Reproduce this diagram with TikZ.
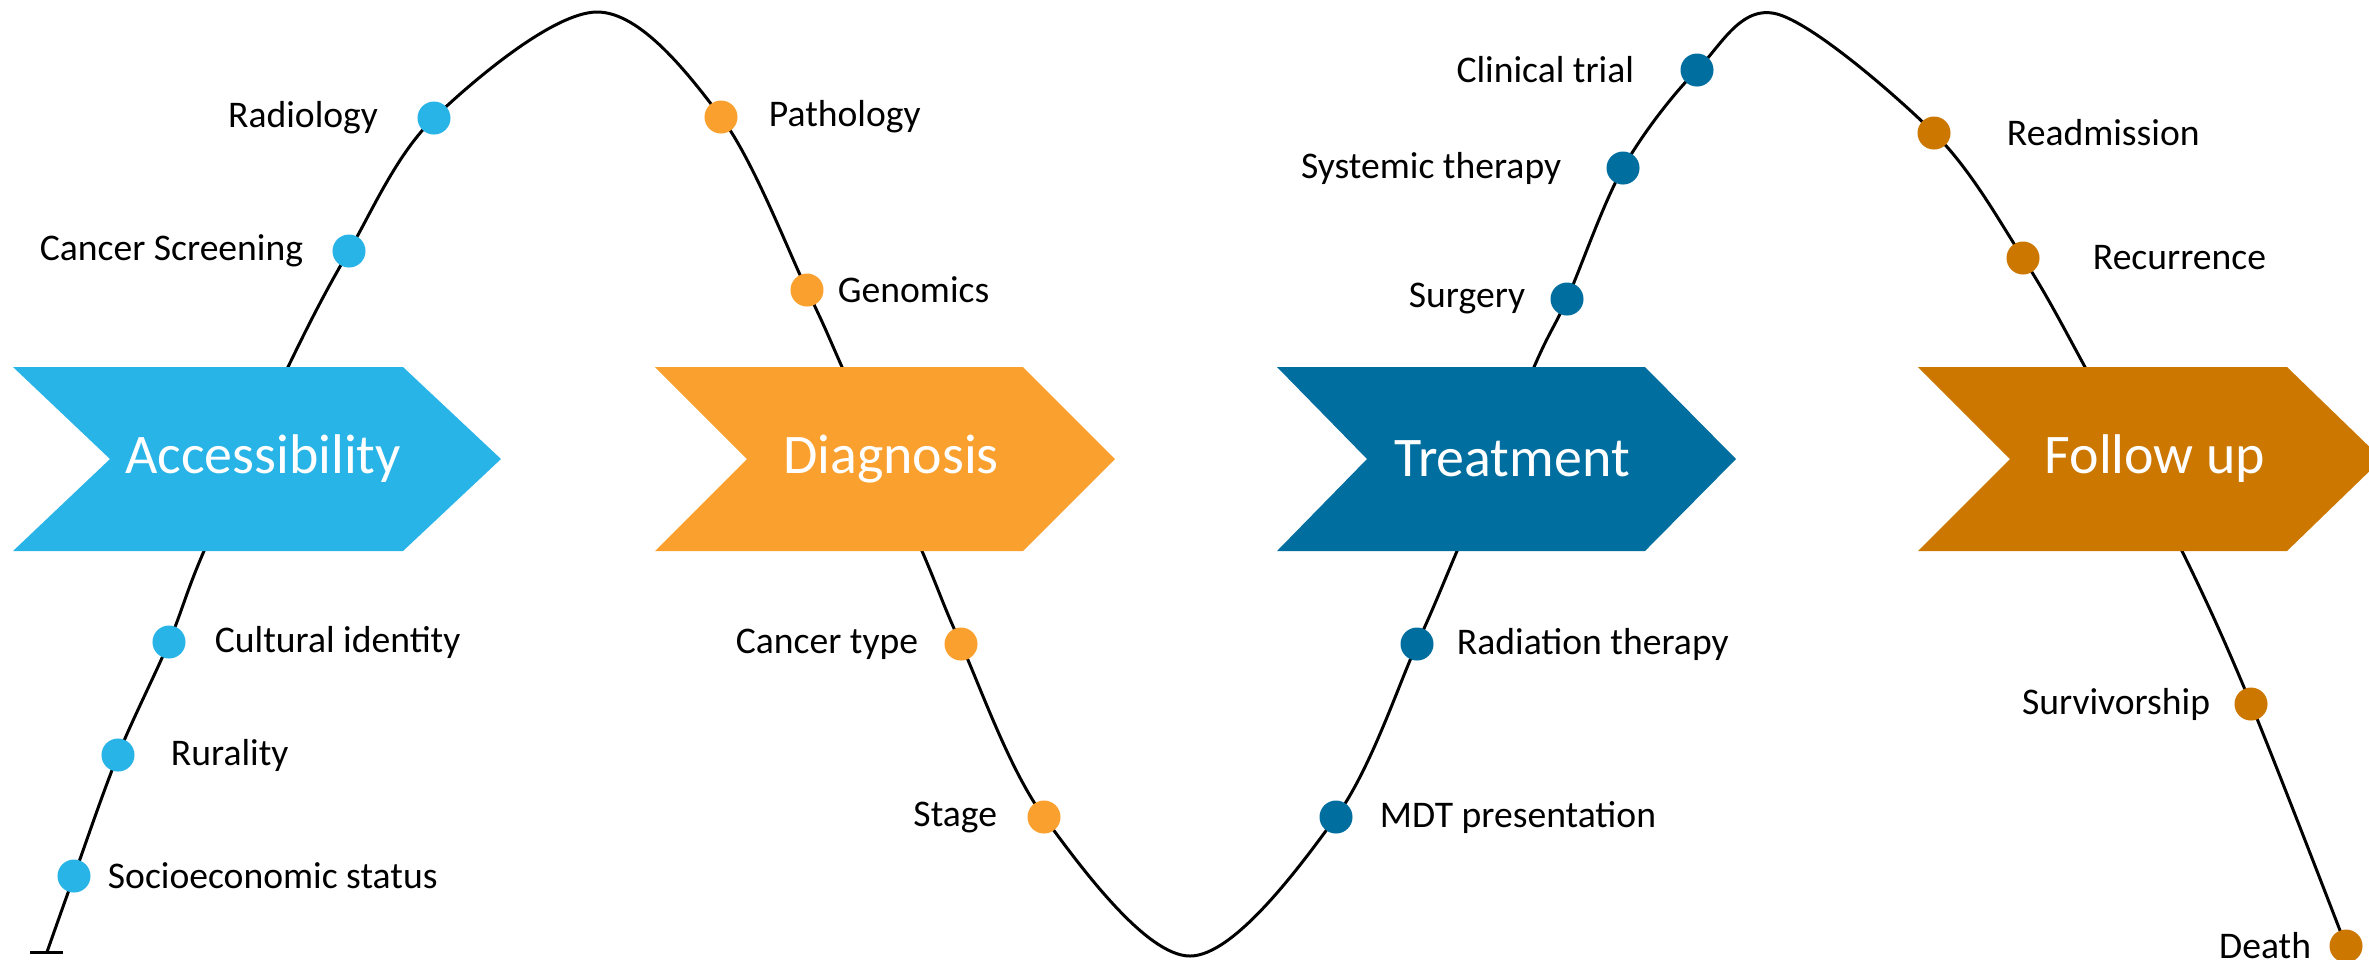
\documentclass[tikz,border=0pt]{standalone}
\usepackage{fontspec}
\setmainfont{Carlito}
\usetikzlibrary{positioning}
\pgfdeclarelayer{edgelayer}
\pgfsetlayers{edgelayer,main}
\definecolor{hexcolor0x29b4e8}{rgb}{0.161,0.706,0.910}
\definecolor{hexcolor0xf9a02f}{rgb}{0.976,0.627,0.184}
\definecolor{hexcolor0x006e9f}{rgb}{0.000,0.431,0.624}
\definecolor{hexcolor0xcc7700}{rgb}{0.800,0.467,0.000}
\definecolor{myblack}{rgb}{0.000,0.000,0.000}
\definecolor{mywhite}{rgb}{1.000,1.000,1.000}
\tikzstyle{dotA}=[circle,fill=hexcolor0x29b4e8,inner sep=0pt,minimum size=0.33cm]
\tikzstyle{dotB}=[circle,fill=hexcolor0xf9a02f,inner sep=0pt,minimum size=0.33cm]
\tikzstyle{dotC}=[circle,fill=hexcolor0x006e9f,inner sep=0pt,minimum size=0.33cm]
\tikzstyle{dotD}=[circle,fill=hexcolor0xcc7700,inner sep=0pt,minimum size=0.33cm]
\tikzstyle{itemtext}=[inner sep=0pt,text=myblack,font=\fontsize{10.7}{12}\selectfont]
\tikzstyle{phasetext}=[inner sep=0pt,text=mywhite,font=\fontsize{15.9}{19}\selectfont]
\tikzstyle{wave}=[draw=myblack,line width=0.85pt]

\begin{document}
\begin{tikzpicture}[x=0.01cm,y=-0.01cm]
	\useasboundingbox (0,0) rectangle (2369,959);
	% phases
	\fill [hexcolor0x29b4e8] (13,367) -- (403,367) -- (501,459) -- (403,551) -- (13,551) -- (110,459) -- cycle;
	\fill [hexcolor0xf9a02f] (655,367) -- (1023,367) -- (1115,459) -- (1023,551) -- (655,551) -- (747,459) -- cycle;
	\fill [hexcolor0x006e9f] (1277,367) -- (1645,367) -- (1736,459) -- (1645,551) -- (1277,551) -- (1367,459) -- cycle;
	\fill [hexcolor0xcc7700] (1918,367) -- (2287,367) -- (2382,459) -- (2287,551) -- (1918,551) -- (2010,459) -- cycle;
	\node [style=phasetext] (access) at (263,459) {Accessibility};
	\node [style=phasetext] (diag) at (891,459) {Diagnosis};
	\node [style=phasetext] (treat) at (1512,459) {Treatment};
	\node [style=phasetext] (follow) at (2155,459) {Follow up};

	% points on the path
	\node [style=dotA] (socio) at (74,876) {};
	\node [style=dotA] (rural) at (118,755) {};
	\node [style=dotA] (cultural) at (169,642) {};
	\node [style=dotA] (screening) at (349,251) {};
	\node [style=dotA] (radiology) at (434,118) {};
	\node [style=dotB] (pathology) at (721,117) {};
	\node [style=dotB] (genomics) at (807,290) {};
	\node [style=dotB] (ctype) at (961,644) {};
	\node [style=dotB] (stage) at (1044,817) {};
	\node [style=dotC] (mdt) at (1336,817) {};
	\node [style=dotC] (radiation) at (1417,644) {};
	\node [style=dotC] (surgery) at (1567,299) {};
	\node [style=dotC] (systemic) at (1623,168) {};
	\node [style=dotC] (clinical) at (1697,70) {};
	\node [style=dotD] (readmission) at (1934,133) {};
	\node [style=dotD] (recurrence) at (2023,258) {};
	\node [style=dotD] (survivorship) at (2251,704) {};
	\node [style=dotD] (death) at (2346,946) {};

	\node [style=itemtext, right=0.16cm of socio] (socio-txt) {Socioeconomic status};
	\node [style=itemtext, right=0.35cm of rural] (rural-txt) {Rurality};
	\node [style=itemtext, right=0.28cm of cultural] (cultural-txt) {Cultural identity};
	\node [style=itemtext, left=0.28cm of screening] (screening-txt) {Cancer Screening};
	\node [style=itemtext, left=0.38cm of radiology] (radiology-txt) {Radiology};
	\node [style=itemtext, right=0.30cm of pathology] (pathology-txt) {Pathology};
	\node [style=itemtext, right=0.13cm of genomics] (genomics-txt) {Genomics};
	\node [style=itemtext, left=0.25cm of ctype] (ctype-txt) {Cancer type};
	\node [style=itemtext, left=0.29cm of stage] (stage-txt) {Stage};
	\node [style=itemtext, right=0.26cm of mdt] (mdt-txt) {MDT presentation};
	\node [style=itemtext, right=0.22cm of radiation] (radiation-txt) {Radiation therapy};
	\node [style=itemtext, left=0.24cm of surgery] (surgery-txt) {Surgery};
	\node [style=itemtext, left=0.44cm of systemic] (systemic-txt) {Systemic therapy};
	\node [style=itemtext, left=0.45cm of clinical] (clinical-txt) {Clinical trial};
	\node [style=itemtext, right=0.55cm of readmission] (readmission-txt) {Readmission};
	\node [style=itemtext, right=0.52cm of recurrence] (recurrence-txt) {Recurrence};
	\node [style=itemtext, left=0.23cm of survivorship] (survivorship-txt) {Survivorship};
	\node [style=itemtext, left=0.17cm of death] (death-txt) {Death};

	% where the path meets the phases, and its turns
	\coordinate (start) at (47,952);
	\coordinate (a1) at (204,551);
	\coordinate (a2) at (288,367);
	\coordinate (top1) at (597,12);
	\coordinate (d1) at (842,367);
	\coordinate (d2) at (922,551);
	\coordinate (bottom) at (1190,956);
	\coordinate (t1) at (1457,551);
	\coordinate (t2) at (1534,367);
	\coordinate (top2) at (1777,14);
	\coordinate (f1) at (2085,367);
	\coordinate (f2) at (2182,551);

	\begin{pgfonlayer}{edgelayer}
		\draw [style=wave] plot [smooth, tension=0.55] coordinates {(start) (socio.center) (rural.center) (cultural.center) (a1) (a2) (screening.center) (radiology.center) (top1) (pathology.center) (genomics.center) (d1) (d2) (ctype.center) (stage.center) (bottom) (mdt.center) (radiation.center) (t1) (t2) (surgery.center) (systemic.center) (clinical.center) (top2) (readmission.center) (recurrence.center) (f1) (f2) (survivorship.center) (death.center)};
		\draw [style=wave] ([xshift=-0.17cm]start) -- ([xshift=0.16cm]start);
	\end{pgfonlayer}
\end{tikzpicture}
\end{document}
